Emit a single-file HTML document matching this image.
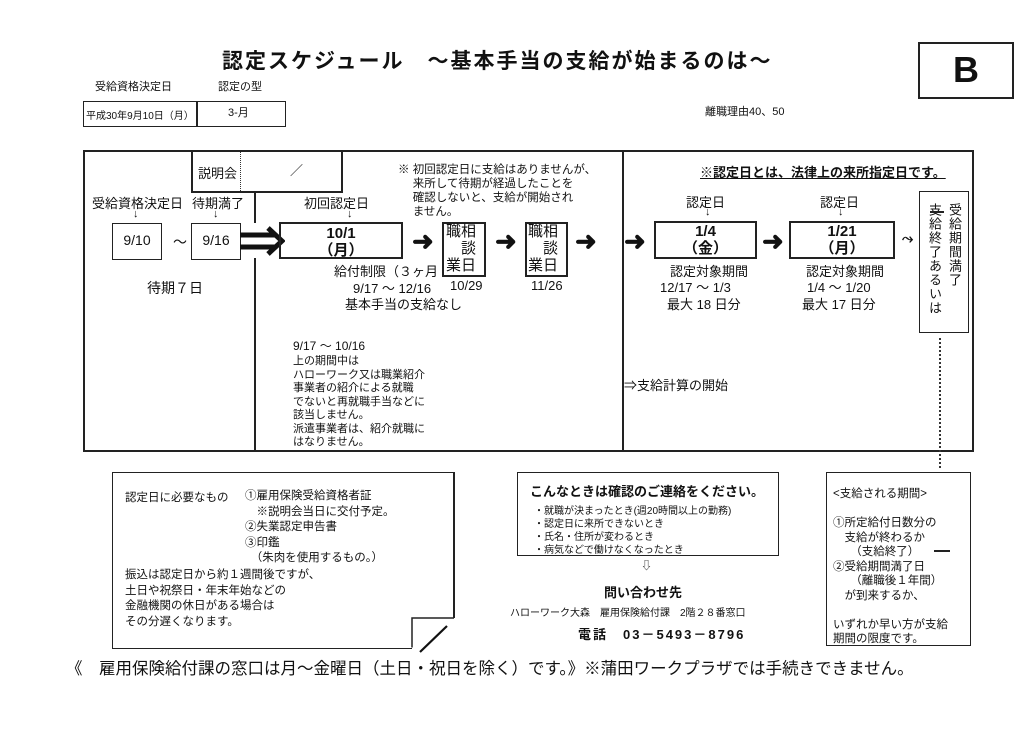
<!DOCTYPE html>
<html><head><meta charset="utf-8"><style>
body{margin:0;width:1033px;height:733px;background:#fff;position:relative;overflow:hidden;font-family:"Liberation Sans","Noto Sans CJK JP",sans-serif;color:#111}
.a{position:absolute;white-space:nowrap}
.b{position:absolute;border:2px solid #222;box-sizing:border-box}
.c{text-align:center}
.arr{position:absolute;font-size:26px;font-weight:bold;line-height:1}
.s{font-size:11px;line-height:13.5px}
.m{font-size:13px}
.d{font-size:15px;font-weight:bold;line-height:17px}
.v{writing-mode:vertical-rl;font-size:13px;letter-spacing:1px}
</style></head><body>
<div class="a" style="left:222px;top:45px;font-size:21px;font-weight:bold;letter-spacing:2px">認定スケジュール　～基本手当の支給が始まるのは～</div>
<div class="b" style="left:918px;top:42px;width:96px;height:57px;font-size:36px;font-weight:bold;text-align:center;line-height:52px">B</div>
<div class="a s" style="left:95px;top:81px">受給資格決定日</div>
<div class="a s" style="left:218px;top:81px">認定の型</div>
<div class="b" style="left:83px;top:101px;width:203px;height:26px;border-width:1.5px"></div>
<div class="a" style="left:196px;top:101px;width:1.5px;height:26px;background:#222"></div>
<div class="a" style="left:86px;top:107px;font-size:10px">平成30年9月10日（月）</div>
<div class="a s" style="left:228px;top:107px">3-月</div>
<div class="a s" style="left:705px;top:106px">離職理由40、50</div>

<div class="b" style="left:83px;top:150px;width:891px;height:302px"></div>
<div class="a" style="left:622px;top:150px;width:2px;height:302px;background:#222"></div>
<div class="a" style="left:254px;top:192px;width:2px;height:31px;background:#222"></div>
<div class="a" style="left:254px;top:258px;width:2px;height:194px;background:#222"></div>
<div class="b" style="left:191px;top:150px;width:152px;height:43px;background:#fff"></div>
<div class="a" style="left:240px;top:152px;height:39px;border-left:1px dotted #333"></div>
<div class="a m" style="left:198px;top:163px">説明会</div>
<div class="a m" style="left:290px;top:160px">／</div>

<div class="a m" style="left:92px;top:193px">受給資格決定日</div>
<div class="a m" style="left:192px;top:193px">待期満了</div>
<div class="a s" style="left:133px;top:208px">↓</div>
<div class="a s" style="left:213px;top:208px">↓</div>
<div class="b c" style="left:112px;top:223px;width:50px;height:37px;border-width:1.5px;font-size:14px;line-height:33px">9/10</div>
<div class="a" style="left:173px;top:232px;font-size:14px">～</div>
<div class="b c" style="left:191px;top:223px;width:50px;height:37px;border-width:1.5px;font-size:14px;line-height:33px">9/16</div>
<svg class="a" style="left:240px;top:226px" width="45" height="30"><line x1="0" y1="9" x2="36" y2="9" stroke="#111" stroke-width="5"/><line x1="0" y1="21" x2="36" y2="21" stroke="#111" stroke-width="5"/><polyline points="28,2 42,15 28,28" fill="none" stroke="#111" stroke-width="5"/></svg>
<div class="a" style="left:147px;top:278px;font-size:14px">待期７日</div>

<div class="a m" style="left:304px;top:193px">初回認定日</div>
<div class="a s" style="left:347px;top:208px">↓</div>
<div class="b c d" style="left:279px;top:222px;width:124px;height:37px;padding-top:1px">10/1<br>（月）</div>
<div class="a s" style="left:398px;top:163px;font-size:11.5px;line-height:14px">※ 初回認定日に支給はありませんが、<br>　 来所して待期が経過したことを<br>　 確認しないと、支給が開始され<br>　 ません。</div>
<div class="arr" style="left:412px;top:228px">➜</div>
<div class="b" style="left:442px;top:222px;width:44px;height:55px;background:#fff"></div>
<div class="a" style="left:446px;top:223px;font-size:15px;line-height:17px">職相<br>　談<br>業日</div>
<div class="arr" style="left:495px;top:228px">➜</div>
<div class="b" style="left:525px;top:222px;width:43px;height:55px"></div>
<div class="a" style="left:528px;top:223px;font-size:15px;line-height:17px">職相<br>　談<br>業日</div>
<div class="arr" style="left:575px;top:228px">➜</div>
<div class="a m" style="left:334px;top:261px">給付制限（３ヶ月</div>
<div class="a m" style="left:353px;top:278px">9/17 ～ 12/16</div>
<div class="a m" style="left:450px;top:278px">10/29</div>
<div class="a m" style="left:531px;top:278px">11/26</div>
<div class="a m" style="left:345px;top:294px">基本手当の支給なし</div>
<div class="a s" style="left:293px;top:340px;font-size:12px">9/17 ～ 10/16</div>
<div class="a s" style="left:293px;top:355px">上の期間中は<br>ハローワーク又は職業紹介<br>事業者の紹介による就職<br>でないと再就職手当などに<br>該当しません。<br>派遣事業者は、紹介就職に<br>はなりません。</div>

<div class="a" style="left:700px;top:162px;font-size:13px;font-weight:bold;text-decoration:underline">※認定日とは、法律上の来所指定日です。</div>
<div class="arr" style="left:624px;top:228px">➜</div>
<div class="a m" style="left:686px;top:192px">認定日</div>
<div class="a s" style="left:705px;top:206px">↓</div>
<div class="b c d" style="left:654px;top:221px;width:103px;height:38px">1/4<br>（金）</div>
<div class="arr" style="left:762px;top:228px">➜</div>
<div class="a m" style="left:820px;top:192px">認定日</div>
<div class="a s" style="left:838px;top:206px">↓</div>
<div class="b c d" style="left:789px;top:221px;width:106px;height:38px">1/21<br>（月）</div>
<div class="a" style="left:902px;top:230px;font-size:14px;font-weight:bold">⤳</div>
<div class="a m" style="left:670px;top:261px">認定対象期間</div>
<div class="a m" style="left:660px;top:277px">12/17 ～ 1/3</div>
<div class="a m" style="left:667px;top:294px">最大 18 日分</div>
<div class="a m" style="left:806px;top:261px">認定対象期間</div>
<div class="a m" style="left:807px;top:277px">1/4 ～ 1/20</div>
<div class="a m" style="left:802px;top:294px">最大 17 日分</div>
<div class="b" style="left:919px;top:191px;width:50px;height:142px;border-width:1.5px"></div>
<div class="a v" style="left:924px;top:203px;line-height:20px;height:125px">受給期間満了<br>支給終了あるいは</div>
<div class="a" style="left:930px;top:211px;width:14px;height:1.5px;background:#222"></div>
<div class="a" style="left:939px;top:338px;height:130px;border-left:2px dotted #333"></div>
<div class="a m" style="left:624px;top:375px">⇒支給計算の開始</div>

<div class="b" style="left:112px;top:472px;width:343px;height:177px;border-width:1.5px;border-right-width:2px"></div>
<div class="a" style="left:412px;top:618px;width:45px;height:33px;background:#fff"></div>
<svg class="a" style="left:405px;top:612px" width="55" height="45"><polyline points="7,35.5 7,6 49,6" fill="none" stroke="#222" stroke-width="1.5"/><line x1="15" y1="40" x2="42" y2="14" stroke="#111" stroke-width="2.2"/></svg>
<div class="a" style="left:125px;top:489px;font-size:11.5px">認定日に必要なもの</div>
<div class="a" style="left:245px;top:489px;font-size:11.5px;line-height:15.5px">①雇用保険受給資格者証<br>　※説明会当日に交付予定。<br>②失業認定申告書<br>③印鑑<br>　（朱肉を使用するもの。）</div>
<div class="a" style="left:125px;top:568px;font-size:11.5px;line-height:15.5px">振込は認定日から約１週間後ですが、<br>土日や祝祭日・年末年始などの<br>金融機関の休日がある場合は<br>その分遅くなります。</div>

<div class="b" style="left:517px;top:472px;width:262px;height:84px;border-width:1.5px"></div>
<div class="a" style="left:530px;top:481px;font-size:13px;font-weight:bold">こんなときは確認のご連絡をください。</div>
<div class="a" style="left:534px;top:505px;font-size:10px;line-height:13px">・就職が決まったとき(週20時間以上の勤務)<br>・認定日に来所できないとき<br>・氏名・住所が変わるとき<br>・病気などで働けなくなったとき</div>
<div class="a s" style="left:641px;top:560px">⇩</div>
<div class="a m" style="left:604px;top:582px;font-weight:bold">問い合わせ先</div>
<div class="a" style="left:510px;top:604px;font-size:10px">ハローワーク大森　雇用保険給付課　2階２８番窓口</div>
<div class="a" style="left:578px;top:624px;font-size:13px;font-weight:bold;letter-spacing:2px">電話　03－5493－8796</div>

<div class="b" style="left:826px;top:472px;width:145px;height:174px;border-width:1.5px"></div>
<div class="a s" style="left:833px;top:487px;line-height:14.5px;font-size:11.5px">&lt;支給される期間&gt;<br><br>①所定給付日数分の<br>　支給が終わるか<br>　　（支給終了）<br>②受給期間満了日<br>　　（離職後１年間）<br>　が到来するか、<br><br>いずれか早い方が支給<br>期間の限度です。</div>
<div class="a" style="left:934px;top:550px;width:16px;height:2px;background:#222"></div>

<div class="a" style="left:66px;top:655px;font-size:16.5px">《　雇用保険給付課の窓口は月～金曜日（土日・祝日を除く）です。》※蒲田ワークプラザでは手続きできません。</div>
</body></html>
